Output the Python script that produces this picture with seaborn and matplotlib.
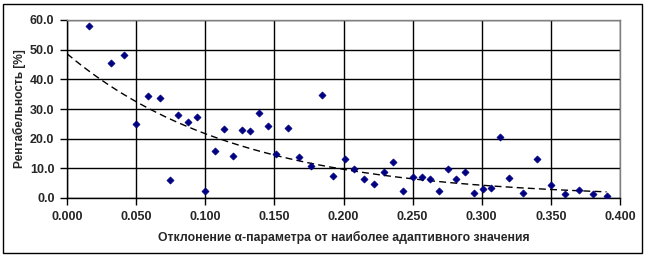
import numpy as np
import pandas as pd
import matplotlib
matplotlib.use("Agg")
import matplotlib.pyplot as plt
import seaborn as sns
from matplotlib.patches import Rectangle
from matplotlib.ticker import FormatStrFormatter

deviation = [0.0159, 0.0320, 0.0409, 0.0496, 0.0587, 0.0674, 0.0743, 0.0804, 0.0876, 0.0940,
             0.1000, 0.1070, 0.1135, 0.1198, 0.1263, 0.1323, 0.1388, 0.1453, 0.1515, 0.1597,
             0.1677, 0.1763, 0.1843, 0.1926, 0.2009, 0.2076, 0.2146, 0.2220, 0.2290, 0.2360,
             0.2432, 0.2500, 0.2566, 0.2626, 0.2691, 0.2756, 0.2817, 0.2882, 0.2944, 0.3009,
             0.3069, 0.3131, 0.3196, 0.3297, 0.3398, 0.3502, 0.3605, 0.3706, 0.3807, 0.3903]
profitability = [58.0, 45.6, 48.1, 25.0, 34.4, 33.8, 6.1, 28.0, 25.5, 27.3,
                 2.5, 16.0, 23.3, 14.2, 23.0, 22.6, 28.7, 24.3, 15.0, 23.6,
                 13.8, 10.8, 34.8, 7.5, 13.1, 9.8, 6.3, 4.8, 8.7, 12.0,
                 2.5, 7.0, 7.0, 6.4, 2.5, 9.8, 6.3, 8.7, 1.7, 3.0,
                 3.3, 20.7, 6.8, 1.7, 13.0, 4.3, 1.2, 2.6, 1.2, 0.7]

x_ticks = [0.0, 0.05, 0.10, 0.15, 0.20, 0.25, 0.30, 0.35, 0.40]
y_ticks = [0.0, 10.0, 20.0, 30.0, 40.0, 50.0, 60.0]
x_label = "Отклонение α-параметра от наиболее адаптивного значения"
y_label = "Рентабельность [%]"

df = pd.DataFrame({"x": deviation, "y": profitability})

# Exponential trend line (least squares on ln y), as in a spreadsheet trendline
b, ln_a = np.polyfit(df["x"], np.log(df["y"]), 1)
tx = np.linspace(0.0, max(deviation), 200)
trend = pd.DataFrame({"x": tx, "y": np.exp(ln_a) * np.exp(b * tx)})

sns.set_theme(style="white")
plt.rcParams["font.family"] = ["Liberation Sans", "DejaVu Sans"]

fig = plt.figure(figsize=(6.48, 2.58), dpi=100)
ax = fig.add_axes([67 / 648, 1 - 198 / 258, (620 - 67) / 648, (198 - 20) / 258])

sns.lineplot(data=trend, x="x", y="y", ax=ax, color="black", linewidth=1.0,
             linestyle=(0, (5, 3)), zorder=3)
sns.scatterplot(data=df, x="x", y="y", ax=ax, marker="D", s=13, color="#000080",
                edgecolor="#000080", linewidth=0.5, zorder=4)

ax.set_xlim(0, 0.4)
ax.set_ylim(0, 60)
ax.set_xticks(x_ticks)
ax.set_yticks(y_ticks)
ax.xaxis.set_major_formatter(FormatStrFormatter("%.3f"))
ax.yaxis.set_major_formatter(FormatStrFormatter("%.1f"))
ax.grid(True, color="black", linewidth=1.0)
ax.set_axisbelow(True)
ax.tick_params(axis="both", which="major", direction="out", length=5, width=1,
               color="black", labelsize=9, pad=4, left=True, bottom=True)
for lab in ax.get_xticklabels() + ax.get_yticklabels():
    lab.set_fontweight("bold")
ax.set_xlabel(x_label, fontsize=8.8, fontweight="bold", labelpad=6)
ax.set_ylabel(y_label, fontsize=8.6, fontweight="bold")
ax.yaxis.set_label_coords(-0.074, 0.5)

for side in ["left", "bottom"]:
    ax.spines[side].set_color("black")
    ax.spines[side].set_linewidth(1.0)
for side in ["top", "right"]:
    ax.spines[side].set_color("#808080")
    ax.spines[side].set_linewidth(1.0)

fig.patches.append(Rectangle((3 / 648, 1 - 253 / 258), 639 / 648, 249 / 258,
                             transform=fig.transFigure, fill=False,
                             edgecolor="black", linewidth=1.0))

fig.savefig("out.png", dpi=100, facecolor="white")
